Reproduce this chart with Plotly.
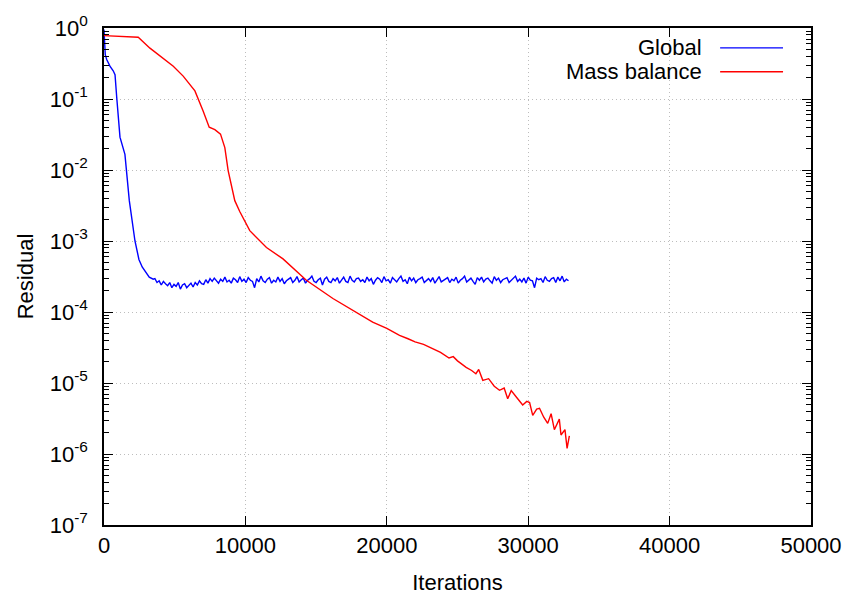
import plotly.graph_objects as go

# ---------------- data ----------------
global_early_iter = [0, 90, 190, 420, 650, 780, 900, 1130, 1480, 1790, 2190, 2470, 2700, 3000, 3200, 3480]
global_early_val = [0.95, 0.42, 0.36, 0.29, 0.25, 0.22, 0.105, 0.029, 0.0166, 0.0037, 0.001,
                    5.5e-4, 4.3e-4, 3.6e-4, 3.1e-4, 2.9e-4]

# plateau residuals (units of 1e-4), every 150 iterations from 3600
global_plateau_start = 3600
global_plateau_step = 150
global_plateau_e4 = [
    2.95, 2.6, 2.75, 2.4, 2.7, 2.5, 2.35, 2.6, 2.2, 2.45, 2.3, 2.6, 2.1, 2.4,
    2.5, 2.2, 2.35, 2.55, 2.25, 2.6, 2.4, 2.75, 2.5, 2.45, 2.85, 2.55, 2.95, 2.7,
    3.0, 2.75, 2.55, 2.9, 2.7, 3.1, 2.65, 2.8, 2.55, 3.0, 2.85, 2.6, 3.15, 2.7,
    2.9, 2.6, 3.05, 2.8, 2.7, 2.2, 2.95, 2.65, 3.2, 2.75, 2.6, 2.9, 3.05, 2.55,
    2.8, 2.65, 3.1, 2.7, 2.95, 2.5, 2.75, 2.9, 3.05, 2.6, 2.8, 3.15, 2.65, 2.85,
    3.0, 2.55, 2.8, 2.95, 3.2, 2.7, 2.6, 2.85, 3.0, 2.4, 2.9, 3.1, 2.7, 2.6,
    2.95, 2.75, 3.05, 2.55, 2.85, 3.1, 2.7, 2.6, 3.2, 2.8, 2.65, 2.95, 3.0, 2.7,
    2.85, 2.6, 3.1, 2.75, 2.95, 2.45, 2.8, 3.05, 2.9, 2.6, 3.15, 2.75, 2.85, 2.55,
    3.05, 2.8, 2.65, 2.95, 3.2, 2.7, 2.85, 2.5, 3.1, 2.75, 3.0, 2.6, 2.85, 2.95,
    3.1, 2.6, 2.8, 2.95, 2.7, 3.05, 2.55, 2.9, 3.15, 2.65, 2.8, 2.95, 3.05, 2.6,
    2.9, 2.75, 3.1, 2.55, 2.8, 2.95, 3.2, 2.65, 2.85, 3.0, 2.7, 2.45, 3.05, 2.8,
    3.1, 2.65, 2.9, 3.0, 2.75, 2.55, 3.15, 2.8, 3.0, 2.6, 2.85, 2.95, 3.05, 2.6,
    2.8, 3.0, 3.2, 2.7, 2.9, 2.65, 3.0, 2.55, 3.1, 2.8, 2.75, 2.2, 3.0, 2.85,
    2.95, 2.6, 3.15, 2.8, 2.7, 2.95, 3.05, 2.6, 3.1, 2.75, 3.2, 2.65, 2.9, 2.75,
]

mass_iter = [0, 1000, 2000, 2420, 3250, 4100, 4900, 5600, 6430, 7010, 7440, 7840, 8240, 8545,
             8780, 9250, 9600, 10310, 11490, 12660, 14310, 16190, 17600, 19000, 20000, 20900,
             21500, 22000, 22600, 23260, 23800, 24400, 24700, 25000, 25610, 26000, 26300, 26500,
             26790, 27200, 27600, 27970, 28300, 28550, 28800, 29200, 29610, 29900, 30100, 30320,
             30600, 30800, 31100, 31380, 31620, 31850, 32200, 32320, 32600, 32750, 32910]
mass_val = [0.78, 0.77, 0.76, 0.74, 0.52, 0.38, 0.29, 0.21, 0.13, 0.068, 0.04, 0.037, 0.032, 0.0207,
            0.0098, 0.0037, 0.0026, 0.0014, 8.1e-4, 5.6e-4, 2.8e-4, 1.55e-4, 1.05e-4, 7.2e-5, 5.9e-5, 4.7e-5,
            4.2e-5, 3.8e-5, 3.5e-5, 3.0e-5, 2.7e-5, 2.25e-5, 2.35e-5, 2.05e-5, 1.66e-5, 1.5e-5, 1.35e-5, 1.55e-5,
            1.09e-5, 1.15e-5, 9.0e-6, 7.9e-6, 8.5e-6, 6.0e-6, 7.8e-6, 6.2e-6, 4.9e-6, 5.5e-6, 5.3e-6, 3.5e-6,
            4.3e-6, 4.4e-6, 3.3e-6, 2.7e-6, 3.7e-6, 2.2e-6, 3.1e-6, 1.85e-6, 2.2e-6, 1.2e-6, 1.8e-6]

x_ticks = [0, 10000, 20000, 30000, 40000, 50000]
y_exps = [0, -1, -2, -3, -4, -5, -6, -7]

series_names = ["Global", "Mass balance"]
series_colors = ["#0000ff", "#ff0000"]

# ---------------- build ----------------
global_iter = list(global_early_iter) + [global_plateau_start + i * global_plateau_step
                                         for i in range(len(global_plateau_e4))]
global_val = list(global_early_val) + [v * 1e-4 for v in global_plateau_e4]

FONT = "Liberation Sans, Arial, Helvetica, sans-serif"
GRID = "#bdbdbd"

fig = go.Figure()
fig.add_trace(go.Scatter(x=global_iter, y=global_val, mode="lines", name=series_names[0],
                         line=dict(color=series_colors[0], width=1.4), showlegend=False))
fig.add_trace(go.Scatter(x=mass_iter, y=mass_val, mode="lines", name=series_names[1],
                         line=dict(color=series_colors[1], width=1.4), showlegend=False))

# gnuplot-style legend (text right, sample to the right)
legend_y = [46, 70]
for i, (nm, col) in enumerate(zip(series_names, series_colors)):
    yp = 1 - (legend_y[i] - 26) / (525 - 26)
    fig.add_annotation(xref="paper", yref="paper", x=(705 - 104) / (812 - 104), y=yp,
                       text=nm, showarrow=False, xanchor="right", yanchor="middle",
                       font=dict(family=FONT, size=22, color="black"))
    fig.add_shape(type="line", xref="paper", yref="paper",
                  x0=(721 - 104) / (812 - 104), x1=(784 - 104) / (812 - 104), y0=yp, y1=yp,
                  line=dict(color=col, width=1.4))

fig.update_layout(
    width=854, height=604,
    margin=dict(l=104, r=42, t=26, b=79),
    plot_bgcolor="white", paper_bgcolor="white",
    font=dict(family=FONT, size=22, color="black"),
    showlegend=False,
)
fig.update_xaxes(
    range=[0, 50000], tickvals=x_ticks, ticktext=[str(t) for t in x_ticks],
    showline=True, linecolor="black", linewidth=1.5, mirror="allticks",
    ticks="inside", ticklen=9, tickcolor="black", tickwidth=1,
    showgrid=True, gridcolor=GRID, griddash="1px,3px", gridwidth=1,
    zeroline=False,
    title=dict(text="Iterations", font=dict(size=22), standoff=17),
    tickfont=dict(size=22),
)
fig.update_yaxes(
    type="log", range=[-7, 0],
    tickvals=[10 ** e for e in y_exps],
    ticktext=["10<sup>%d</sup>" % e for e in y_exps],
    showline=True, linecolor="black", linewidth=1.5, mirror="allticks",
    ticks="inside", ticklen=9, tickcolor="black", tickwidth=1,
    minor=dict(ticks="inside", ticklen=5, tickcolor="black", dtick="D1", showgrid=False),
    showgrid=True, gridcolor=GRID, griddash="1px,3px", gridwidth=1,
    zeroline=False,
    title=dict(text="Residual", font=dict(size=22), standoff=10),
    tickfont=dict(size=22),
    ticklabelstandoff=10,
)

fig.write_html("out.html")
